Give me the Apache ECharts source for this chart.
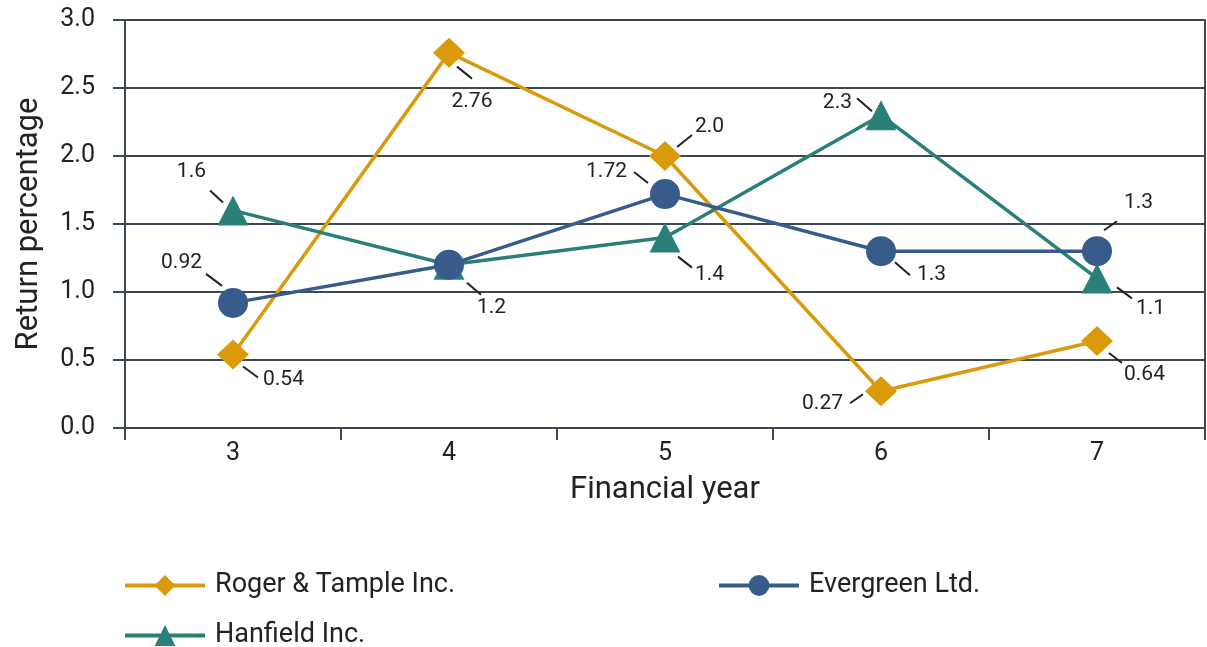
<!DOCTYPE html>
<html>
<head>
<meta charset="utf-8">
<script src="https://cdn.jsdelivr.net/npm/echarts@6/dist/echarts.min.js"></script>
<style>
html,body{margin:0;padding:0;background:#fff;}
#chart{width:1207px;height:647px;}
</style>
</head>
<body>
<div id="chart"></div>
<script>
// ---- data ----
const years = ['3', '4', '5', '6', '7'];
const seriesNames = ['Roger & Tample Inc.', 'Evergreen Ltd.', 'Hanfield Inc.'];
const roger = [0.54, 2.76, 2.0, 0.27, 0.64];
const evergreen = [0.92, 1.2, 1.72, 1.3, 1.3];
const hanfield = [1.6, 1.2, 1.4, 2.3, 1.1];
const yTickValues = [0, 0.5, 1.0, 1.5, 2.0, 2.5, 3.0];

// ---- label placement (style only): [nearX, nearY, farX, farY, textX, textY, align] pixel offsets from the point ----
const rogerLabelPos = [
  [10, 12, 25, 23, 30, 25, 'left'],
  [8, 14, 23, 26, 23, 49, 'center'],
  [12, -9, 27, -21, 30, -29, 'left'],
  [-18, 3, -31, 12, -38, 12, 'right'],
  [12, 12, 25, 22, 27, 34, 'left']
];
const evergreenLabelPos = [
  [-11, -17, -27, -29, -31, -40, 'right'],
  null,
  [-17, -11, -31, -22, -38, -22, 'right'],
  [14, 11, 29, 24, 36, 24, 'left'],
  [7, -21, 20, -30, 27, -48, 'left']
];
const hanfieldLabelPos = [
  [-10, -8, -23, -20, -27, -39, 'right'],
  [18, 18, 32, 30, 28, 43, 'left'],
  [13, 19, 27, 30, 30, 37, 'left'],
  [-9, -4, -24, -17, -29, -12, 'right'],
  [20, 9, 35, 20, 39, 30, 'left']
];

const colors = ['#DA9A0C', '#375B8B', '#2B7F79'];
const FONT = 'Roboto';
const TXT = '#222';

function fmt(v) {
  return Number.isInteger(v) ? v.toFixed(1) : String(v);
}

function labelSeries(values, specs) {
  const data = [];
  values.forEach(function (v, i) { if (specs[i]) data.push([i, v]); });
  return {
    type: 'custom',
    z: 10,
    silent: true,
    clip: false,
    data: data,
    encode: { x: 0, y: 1 },
    renderItem: function (params, api) {
      const i = api.value(0);
      const v = api.value(1);
      const p = api.coord([i, v]);
      const s = specs[i];
      return {
        type: 'group',
        children: [
          { type: 'line', shape: { x1: p[0] + s[0], y1: p[1] + s[1], x2: p[0] + s[2], y2: p[1] + s[3] },
            style: { stroke: '#222', lineWidth: 2 } },
          { type: 'text', x: p[0] + s[4], y: p[1] + s[5],
            style: { text: fmt(v), fill: TXT, fontSize: 21, fontFamily: FONT, align: s[6], verticalAlign: 'middle' } }
        ]
      };
    }
  };
}

const gridColor = '#3E4853';
const legendText = { fontSize: 27, color: TXT, fontFamily: FONT, padding: [0, 0, 0, 5] };
const legendBase = { itemWidth: 80, itemHeight: 26, itemGap: 0, padding: 0, lineStyle: { width: 4 }, textStyle: legendText };
const chart = echarts.init(document.getElementById('chart'));
chart.setOption({
  animation: false,
  color: colors,
  textStyle: { fontFamily: FONT },
  grid: { left: 125, right: 2, top: 20, bottom: 219, containLabel: false },
  legend: [
    Object.assign({ data: [seriesNames[0]], left: 123, top: 572 }, legendBase),
    Object.assign({ data: [seriesNames[1]], left: 717, top: 572 }, legendBase),
    Object.assign({ data: [seriesNames[2]], left: 123, top: 622 }, legendBase)
  ],
  xAxis: {
    type: 'category',
    data: years,
    boundaryGap: true,
    name: 'Financial year',
    nameLocation: 'middle',
    nameGap: 47,
    nameTextStyle: { fontSize: 31, color: TXT, fontFamily: FONT },
    axisLine: { show: true, lineStyle: { color: gridColor, width: 2 } },
    axisTick: { show: true, length: 12, alignWithLabel: false, lineStyle: { color: gridColor, width: 2 } },
    axisLabel: { fontSize: 25, color: TXT, margin: 13, fontFamily: FONT },
    splitLine: { show: false }
  },
  yAxis: [{
    type: 'value',
    min: 0,
    max: 3,
    interval: 0.5,
    name: 'Return percentage',
    nameLocation: 'middle',
    nameGap: 80,
    nameTextStyle: { fontSize: 31, color: TXT, fontFamily: FONT },
    axisLine: { show: true, lineStyle: { color: gridColor, width: 2 } },
    axisTick: { show: true, length: 12, lineStyle: { color: gridColor, width: 2 } },
    axisLabel: { fontSize: 25, color: TXT, margin: 30, fontFamily: FONT,
      formatter: function (v) { return yTickValues.indexOf(v) >= 0 ? v.toFixed(1) : ''; } },
    splitLine: { show: true, lineStyle: { color: gridColor, width: 2 } }
  }, {
    type: 'value',
    position: 'right',
    min: 0,
    max: 3,
    interval: 0.5,
    axisLine: { show: true, lineStyle: { color: gridColor, width: 2 } },
    axisTick: { show: false },
    axisLabel: { show: false },
    splitLine: { show: false }
  }],
  series: [
    { name: seriesNames[0], type: 'line', data: roger, symbol: 'diamond', symbolSize: [32, 30],
      lineStyle: { width: 3.5, color: colors[0] }, itemStyle: { color: colors[0] }, z: 3 },
    { name: seriesNames[1], type: 'line', data: evergreen, symbol: 'circle', symbolSize: 30,
      lineStyle: { width: 3.5, color: colors[1] }, itemStyle: { color: colors[1] }, z: 4 },
    { name: seriesNames[2], type: 'line', data: hanfield, symbol: 'triangle', symbolSize: [31, 30],
      lineStyle: { width: 3.5, color: colors[2] }, itemStyle: { color: colors[2] }, z: 3 },
    labelSeries(roger, rogerLabelPos),
    labelSeries(evergreen, evergreenLabelPos),
    labelSeries(hanfield, hanfieldLabelPos)
  ]
});
</script>
</body>
</html>
